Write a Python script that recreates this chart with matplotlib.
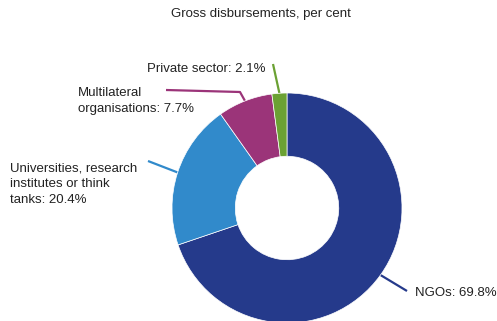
import numpy as np
import matplotlib.pyplot as plt

## Data
labels = ['NGOs', 'Universities, research\ninstitutes or think\ntanks',
          'Multilateral\norganisations', 'Private sector']
shares = [69.8, 20.4, 7.7, 2.1]
colors = ['#253a8b', '#318acb', '#9b3479', '#6ba133']

W, H = 497, 321
cx, cy = 287, H - 208   # centre of donut in pixel units
R = 115

fig = plt.figure(figsize=(W/100, H/100), dpi=100)
ax = fig.add_axes([0, 0, 1, 1])

wedges, _ = ax.pie(shares, colors=colors, startangle=90, counterclock=False,
                   center=(cx, cy), radius=R, frame=True,
                   wedgeprops=dict(width=R*0.55, edgecolor='white', linewidth=0.5))
ax.set_xlim(0, W)
ax.set_ylim(0, H)
ax.set_aspect('equal')
ax.axis('off')

fs = 9.5
tc = '#222222'
ax.text(261, H - 14, 'Gross disbursements, per cent', ha='center', va='center',
        fontsize=fs, color=tc, family='Liberation Sans')

# leader line paths (pixel positions) and label anchors
line_ends = [[(407, 291)],
             [(148, 161)],
             [(240, 92), (166, 90)],
             [(273, 64)]]
text_pos = [(415, 293), (10, 184), (78, 101), (147, 69)]

for w, lab, val, col, ends, (tx, ty) in zip(wedges, labels, shares, colors, line_ends, text_pos):
    ang = np.deg2rad((w.theta1 + w.theta2) / 2)
    x0 = cx + R*np.cos(ang)
    y0 = cy + R*np.sin(ang)
    xs = [x0] + [e[0] for e in ends]
    ys = [y0] + [H - e[1] for e in ends]
    ax.plot(xs, ys, color=col, lw=1.6, solid_capstyle='butt', zorder=0)
    ax.text(tx, H - ty, f'{lab}: {val}%', ha='left', va='center', fontsize=fs,
            color=tc, family='Liberation Sans', linespacing=1.42)

fig.savefig('out.png', dpi=100)
